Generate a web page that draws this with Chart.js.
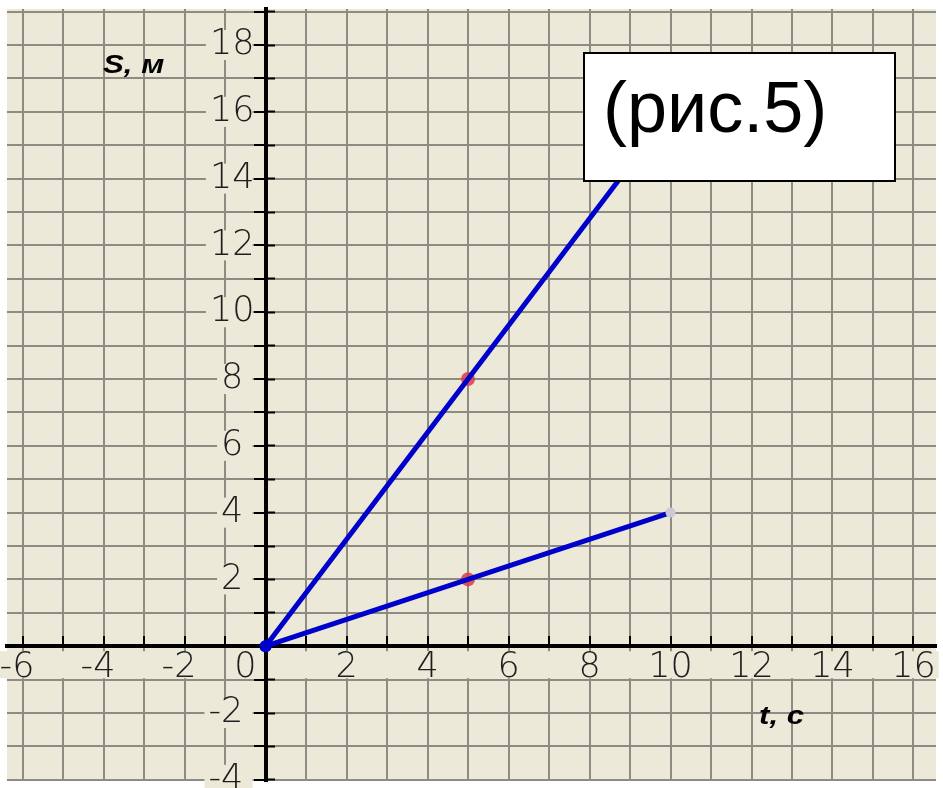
<!DOCTYPE html>
<html>
<head>
<meta charset="utf-8">
<script src="https://cdn.jsdelivr.net/npm/chart.js@4"></script>
<style>
  html, body { margin: 0; padding: 0; background: #ffffff; }
  canvas { display: block; }
</style>
</head>
<body>
<canvas id="c" width="943" height="788"></canvas>
<script>
// ---------------- data ----------------
const tValues = [0, 5, 10];          // t, c
const sSteep  = [0, 8, 16];          // S, м  (steep line)
const sGentle = [0, 2, 4];           // S, м  (gentle line)
const markerT = [5, 5];              // red marks on the lines
const markerS = [8, 2];

const xTickValues = [-6,-5,-4,-3,-2,-1,0,1,2,3,4,5,6,7,8,9,10,11,12,13,14,15,16];
const yTickValues = [-4,-3,-2,-1,0,1,2,3,4,5,6,7,8,9,10,11,12,13,14,15,16,17,18,19];
const xLabelValues = [-6,-4,-2,2,4,6,8,10,12,14,16];
const yLabelValues = [-4,-2,2,4,6,8,10,12,14,16,18];
const originLabel = '0';

const xMin = -6.385, xMax = 16.556;
const yMin = -4.036, yMax = 19.08;

// ---------------- styles ----------------
const INK = '#1e1e1e';
const GRID = '#8e8b83';
const PAPER = '#ECE9D8';
const BLUE = '#0000cc';
const TICK_FONT = { family: 'DejaVu Sans', size: 35, weight: 200, lineHeight: 1 };

// x label band: odd positions get a blank label so the band hides the grid
const xBandValues = xTickValues.filter(v => v !== 0 && v !== -1);
function xLabelText(v) {
  if (xLabelValues.includes(v)) return String(v) + (v < 0 ? ' ' : '');
  return ' ';
}
function yLabelText(v) {
  return String(v) + (Math.abs(v) >= 10 ? ' ' : '  ');
}

const paperPlugin = {
  id: 'paper',
  beforeDraw(chart) {
    const { ctx, chartArea: a } = chart;
    ctx.save();
    ctx.fillStyle = PAPER;
    ctx.fillRect(a.left, a.top, a.right - a.left, a.bottom - a.top);
    ctx.restore();
  }
};

const notesPlugin = {
  id: 'notes',
  afterDraw(chart) {
    const { ctx } = chart;
    const xs = chart.scales.x, ys = chart.scales.y;
    ctx.save();
    ctx.font = '200 35px "DejaVu Sans"';
    ctx.fillStyle = INK;
    ctx.textAlign = 'center';
    ctx.textBaseline = 'middle';
    ctx.fillText(originLabel, xs.getPixelForValue(-0.5), ys.getPixelForValue(0) + 22);
    ctx.restore();

    ctx.save();
    ctx.font = 'italic bold 26px "Liberation Sans"';
    ctx.fillStyle = '#000';
    ctx.textAlign = 'left';
    ctx.textBaseline = 'alphabetic';
    ctx.translate(103, 73); ctx.scale(1.2, 1); ctx.fillText('S, м', 0, 0);
    ctx.restore();
    ctx.save();
    ctx.font = 'italic bold 26px "Liberation Sans"';
    ctx.fillStyle = '#000';
    ctx.textAlign = 'left';
    ctx.textBaseline = 'alphabetic';
    ctx.translate(759, 724); ctx.scale(1.2, 1); ctx.fillText('t, с', 0, 0);
    ctx.restore();

    ctx.save();
    ctx.fillStyle = '#ffffff';
    ctx.fillRect(583, 52, 313, 130);
    ctx.lineWidth = 2;
    ctx.strokeStyle = '#000';
    ctx.strokeRect(584, 53, 311, 128);
    ctx.font = '72px "Liberation Sans"';
    ctx.fillStyle = '#000';
    ctx.textAlign = 'left';
    ctx.textBaseline = 'alphabetic';
    ctx.fillText('(рис.5)', 603, 132);
    ctx.restore();
  }
};

const zeroPad = s => { s.paddingLeft = 0; s.paddingRight = 0; s.paddingTop = 0; s.paddingBottom = 0; };

new Chart(document.getElementById('c'), {
  type: 'scatter',
  data: {
    datasets: [
      { label: 'marks', data: markerT.map((t, i) => ({ x: t, y: markerS[i] })), order: 2, showLine: false,
        pointRadius: 7, pointBackgroundColor: 'rgba(220,60,70,0.85)', pointBorderWidth: 0 },
      { label: 'steep', data: tValues.map((t, i) => ({ x: t, y: sSteep[i] })), order: 1, showLine: true,
        borderColor: BLUE, borderWidth: 5, pointRadius: [6, 0, 0], pointBackgroundColor: BLUE, pointBorderWidth: 0 },
      { label: 'gentle', data: tValues.map((t, i) => ({ x: t, y: sGentle[i] })), order: 1, showLine: true,
        borderColor: BLUE, borderWidth: 5, pointRadius: [6, 0, 5], pointBackgroundColor: [BLUE, BLUE, '#c9c9d6'], pointBorderWidth: 0 }
    ]
  },
  options: {
    responsive: false, devicePixelRatio: 1, animation: false, events: [],
    layout: { padding: { left: 7, top: 9, right: 0, bottom: 0 } },
    plugins: { legend: { display: false }, tooltip: { enabled: false } },
    scales: {
      // grid, axis line and tick marks
      x: {
        type: 'linear', position: { y: 0 }, min: xMin, max: xMax, bounds: 'data',
        afterBuildTicks: s => { s.ticks = xTickValues.map(v => ({ value: v })); },
        afterFit: zeroPad,
        grid: { color: GRID, lineWidth: 2, drawTicks: true, tickLength: -12, tickColor: '#000', tickWidth: 2 },
        border: { display: true, color: '#000', width: 4 },
        ticks: { display: false, autoSkip: false, maxRotation: 0, minRotation: 0 }
      },
      y: {
        type: 'linear', position: { x: 0 }, min: yMin, max: yMax, bounds: 'data',
        afterBuildTicks: s => { s.ticks = yTickValues.map(v => ({ value: v })); },
        afterFit: zeroPad,
        grid: { color: GRID, lineWidth: 2, drawTicks: true, tickLength: 10, tickColor: '#000', tickWidth: 2 },
        border: { display: true, color: '#000', width: 4 },
        ticks: { display: false, autoSkip: false, maxRotation: 0, minRotation: 0 }
      },
      // tick marks on the right side of the vertical axis
      y2: {
        type: 'linear', position: { x: 0 }, min: yMin, max: yMax, bounds: 'data',
        afterBuildTicks: s => { s.ticks = yTickValues.map(v => ({ value: v })); },
        afterFit: zeroPad,
        grid: { drawOnChartArea: false, drawTicks: true, tickLength: -9, tickColor: '#000', tickWidth: 2, color: 'rgba(0,0,0,0)' },
        border: { display: false },
        ticks: { display: false, autoSkip: false, maxRotation: 0 }
      },
      // tick labels
      xl: {
        type: 'linear', axis: 'x', position: { y: 0 }, min: xMin, max: xMax, bounds: 'data',
        afterBuildTicks: s => { s.ticks = xBandValues.map(v => ({ value: v })); },
        afterFit: zeroPad,
        grid: { display: false, drawTicks: false },
        border: { display: false },
        ticks: {
          autoSkip: false, maxRotation: 0, minRotation: 0, padding: 4.5, font: TICK_FONT, color: INK,
          callback: v => xLabelText(v),
          showLabelBackdrop: true,
          backdropColor: PAPER,
          backdropPadding: { top: -0.5, bottom: -7.5, left: 3, right: 3 }
        }
      },
      yl: {
        type: 'linear', axis: 'y', position: { x: 0 }, min: yMin, max: yMax, bounds: 'data',
        afterBuildTicks: s => { s.ticks = yLabelValues.map(v => ({ value: v })); },
        afterFit: zeroPad,
        grid: { display: false, drawTicks: false },
        border: { display: false },
        ticks: {
          autoSkip: false, maxRotation: 0, minRotation: 0, padding: 0, font: TICK_FONT, color: INK,
          callback: v => yLabelText(v),
          showLabelBackdrop: true,
          backdropColor: PAPER,
          backdropPadding: { top: -2.5, bottom: -2.5, left: 4, right: -13 }
        }
      }
    }
  },
  plugins: [paperPlugin, notesPlugin]
});
</script>
</body>
</html>
